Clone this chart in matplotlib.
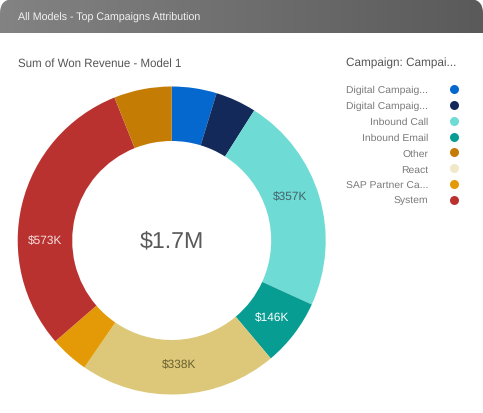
#!/usr/bin/env python
# -*- coding: utf-8 -*-
import matplotlib
matplotlib.use("Agg")
import matplotlib.pyplot as plt
import numpy as np

plt.rcParams['font.family'] = ['Liberation Sans', 'DejaVu Sans']
plt.rcParams['text.hinting'] = 'none'
plt.rcParams['text.hinting_factor'] = 8

# slices clockwise from 12 o'clock, sizes
slice_names = ['Digital 1', 'Digital 2', 'Inbound Call', 'Inbound Email', 'React', 'SAP Partner', 'System', 'Other']
slice_values = [80, 73, 388, 120, 352, 69, 515, 103]
slice_colors = ['#0468cf', '#13295a', '#6edbd5', '#079d92', '#dcc878', '#e49a06', '#b93230', '#c47c04']

value_labels = ['$357K', '$146K', '$338K', '$573K']
value_colors = ['#44636a', 'white', '#6b5f30', '#f5e0e0']
value_pos = [(290, 197.5), (272, 318), (179, 365.5), (45, 241.5)]

legend_names = ['Digital Campaig...', 'Digital Campaig...', 'Inbound Call', 'Inbound Email',
                'Other', 'React', 'SAP Partner Ca...', 'System']
legend_colors = ['#0468cf', '#13295a', '#6edbd5', '#079d92', '#c47c04', '#f0e8c8', '#e49a06', '#b93230']

W, H = 483, 414
fig = plt.figure(figsize=(W/100, H/100), dpi=100, facecolor='white')

# donut
R = 154
r_in = 99.5
cx, cy = 171.7, 241.5
ax = fig.add_axes([(cx-R)/W, 1-(cy+R)/H, 2*R/W, 2*R/H])
ax.pie(slice_values, colors=slice_colors, startangle=90, counterclock=False, radius=1,
       wedgeprops=dict(width=1-r_in/R, linewidth=0))
ax.set_xlim(-1, 1)
ax.set_ylim(-1, 1)

# everything else in pixel coordinates
bg = fig.add_axes([0, 0, 1, 1])
bg.patch.set_alpha(0)
bg.axis('off')
grad = np.linspace(0, 1, 256).reshape(1, -1)
hdr = matplotlib.colors.LinearSegmentedColormap.from_list('hdr', ['#838383', '#5a5a5a'])
img = bg.imshow(grad, extent=[0, W, 33.5, 0], cmap=hdr, aspect='auto', zorder=1)
clip = matplotlib.patches.FancyBboxPatch((0, 0), W, 60, boxstyle="round,pad=0,rounding_size=14",
                                         transform=bg.transData, fc='none', ec='none')
bg.add_patch(clip)
img.set_clip_path(clip)
bg.set_xlim(0, W)
bg.set_ylim(H, 0)

bg.text(18, 17.5, 'All Models - Top Campaigns Attribution', color='white', fontsize=7.7, va='center', ha='left', alpha=0.9, zorder=2)
bg.text(18, 63.5, 'Sum of Won Revenue - Model 1', color='#555555', fontsize=8.3, va='center', ha='left')
bg.text(346, 63.5, 'Campaign: Campai...', color='#555555', fontsize=8.45, va='center', ha='left')

for i in range(len(legend_names)):
    y = 90 + i*15.86
    bg.text(428, y+0.7, legend_names[i], color='#7a7a7a', fontsize=7.5, va='center', ha='right')
    bg.scatter([454.3], [y], s=42, color=legend_colors[i], linewidths=0, zorder=3)

for lab, c, p in zip(value_labels, value_colors, value_pos):
    bg.text(p[0], p[1], lab, color=c, fontsize=8.6, ha='center', va='center')

bg.text(171.5, 241.5, '$1.7M', color='#5a5a5a', fontsize=16.7, ha='center', va='center')

fig.savefig('out.png', dpi=100)
